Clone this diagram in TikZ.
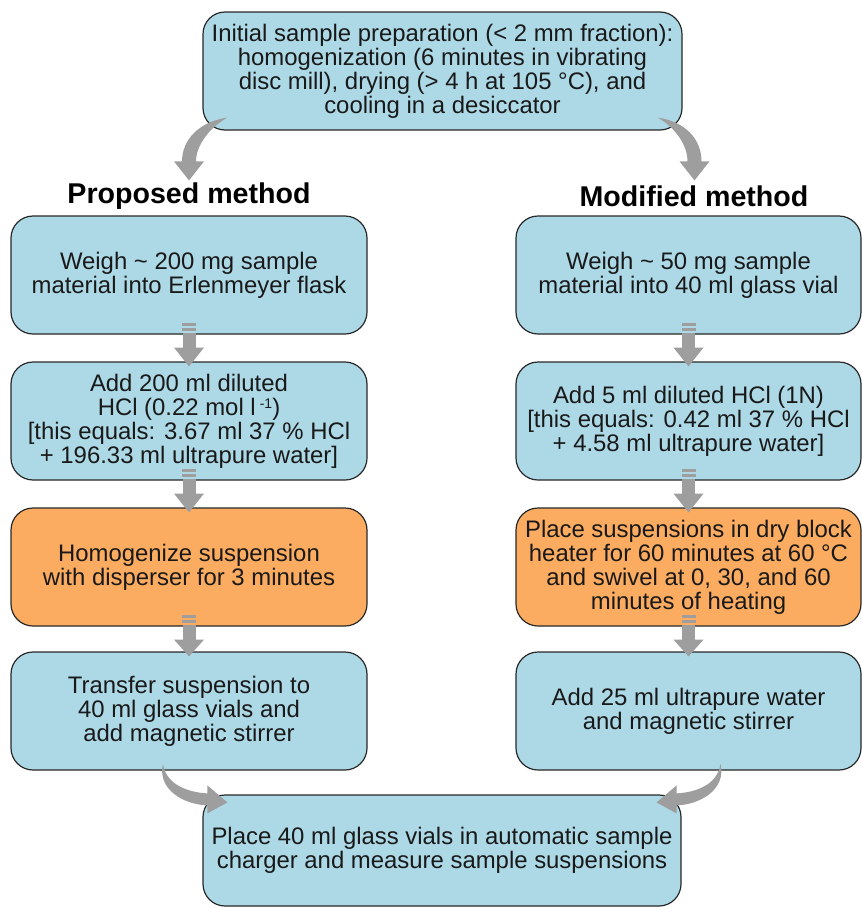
\documentclass[tikz,border=0pt]{standalone}
\usepackage{fontspec}
\setmainfont{Liberation Sans}
\usepackage{xcolor}
\definecolor{boxblue}{RGB}{173,217,231}
\definecolor{boxorange}{RGB}{251,172,96}
\definecolor{linegray}{RGB}{40,40,40}
\definecolor{arrowgray}{RGB}{158,158,158}
\usepackage{tikz}
\usetikzlibrary{calc}

\newcommand{\stackarrow}[2]{%
  \fill[arrowgray] ($(#1.south)+(-7,12)$) rectangle ($(#1.south)+(7,9)$);
  \fill[arrowgray] ($(#1.south)+(-7,7)$) rectangle ($(#1.south)+(7,4)$);
  \fill[arrowgray] ($(#1.south)+(-6.5,2)$) rectangle ($(#1.south)+(6.5,-13)$);
  \fill[arrowgray] ($(#1.south)+(-15,-13)$) -- ($(#1.south)+(15,-13)$) -- ($(#2.north)+(0,-5)$) -- cycle;
}
\newcommand{\minusone}{\raisebox{6.5pt}{\fontsize{14}{14}\selectfont -1}}

\begin{document}
\begin{tikzpicture}[
  x=1pt, y=1pt,
  box/.style={draw=linegray, fill=boxblue, line width=1.2pt, rounded corners=22pt, align=center,
    font=\fontsize{23.9}{24}\selectfont, text=black!90, inner sep=0pt},
  hot/.style={box, fill=boxorange},
  head/.style={font=\fontsize{28.6}{30}\selectfont\bfseries, text=black},
  curvearrow/.style={fill=arrowgray}
]
\useasboundingbox (0,0) rectangle (862,-908);

\node[box, minimum width=479pt, minimum height=118pt] (prep) at (442.5,-71) {Initial sample preparation (< 2 mm fraction):\\homogenization (6 minutes in vibrating\\disc mill), drying (> 4 h at 105 °C), and\\cooling in a desiccator};

\node[head] (headL) at (189,-196) {Proposed method};
\node[head] (headR) at (694,-196) {Modified method};

\node[box, minimum width=356pt, minimum height=118pt] (weighL) at (189,-275) {Weigh \textasciitilde{} 200 mg sample\\material into Erlenmeyer flask};
\node[box, minimum width=356pt, minimum height=118pt] (acidL) at (189,-421) {Add 200 ml diluted\\HCl (0.22 mol l\,\minusone)\\{}[this equals: 3.67 ml 37 \% HCl\\+ 196.33 ml ultrapure water]};
\node[hot, minimum width=356pt, minimum height=118pt] (mixL) at (189,-567) {Homogenize suspension\\with disperser for 3 minutes};
\node[box, minimum width=356pt, minimum height=118pt] (vialL) at (189,-711) {Transfer suspension to\\40 ml glass vials and\\add magnetic stirrer};

\node[box, minimum width=345pt, minimum height=118pt] (weighR) at (688.5,-275) {Weigh \textasciitilde{} 50 mg sample\\material into 40 ml glass vial};
\node[box, minimum width=345pt, minimum height=118pt] (acidR) at (688.5,-421) {Add 5 ml diluted HCl (1N)\\{}[this equals: 0.42 ml 37 \% HCl\\+ 4.58 ml ultrapure water]};
\node[hot, minimum width=345pt, minimum height=118pt] (heatR) at (688.5,-567) {Place suspensions in dry block\\heater for 60 minutes at 60 °C\\and swivel at 0, 30, and 60\\minutes of heating};
\node[box, minimum width=345pt, minimum height=118pt] (waterR) at (688.5,-711) {Add 25 ml ultrapure water\\and magnetic stirrer};

\node[box, minimum width=478pt, minimum height=111pt] (measure) at (442,-850.5) {Place 40 ml glass vials in automatic sample\\charger and measure sample suspensions};

\stackarrow{weighL}{acidL}
\stackarrow{acidL}{mixL}
\stackarrow{mixL}{vialL}
\stackarrow{weighR}{acidR}
\stackarrow{acidR}{heatR}
\stackarrow{heatR}{waterR}

\coordinate (t1) at ($(prep.south west)+(25,13)$);
\coordinate (p1) at ($(weighL.north)+(0,35)$);
\fill[curvearrow] (t1) .. controls ($(t1)+(-28,-4)$) and ($(p1)+(-7,41)$) .. ($(p1)+(-7,19)$)
  -- ($(p1)+(-15,19)$) -- (p1) -- ($(p1)+(15,19)$) -- ($(p1)+(7,19)$)
  .. controls ($(p1)+(7,35)$) and ($(t1)+(-18,-10)$) .. (t1) -- cycle;

\coordinate (t2) at ($(prep.south east)+(-25,13)$);
\coordinate (p2) at ($(weighR.north)+(6,35)$);
\fill[curvearrow] (t2) .. controls ($(t2)+(28,-4)$) and ($(p2)+(7,41)$) .. ($(p2)+(7,19)$)
  -- ($(p2)+(15,19)$) -- (p2) -- ($(p2)+(-15,19)$) -- ($(p2)+(-7,19)$)
  .. controls ($(p2)+(-7,35)$) and ($(t2)+(18,-10)$) .. (t2) -- cycle;

\coordinate (t3) at ($(vialL.south)+(-26,7)$);
\coordinate (p3) at ($(measure.north west)+(25,-8)$);
\fill[curvearrow] (t3) .. controls ($(t3)+(3,-22)$) and ($(p3)+(-38,10)$) .. ($(p3)+(-20,9)$)
  -- ($(p3)+(-20,17)$) -- (p3) -- ($(p3)+(-20,-11)$) -- ($(p3)+(-20,-3)$)
  .. controls ($(p3)+(-45,-2)$) and ($(t3)+(-6,-25)$) .. (t3) -- cycle;

\coordinate (t4) at ($(waterR.south)+(32,7)$);
\coordinate (p4) at ($(measure.north east)+(-25,-8)$);
\fill[curvearrow] (t4) .. controls ($(t4)+(-3,-22)$) and ($(p4)+(38,10)$) .. ($(p4)+(20,9)$)
  -- ($(p4)+(20,17)$) -- (p4) -- ($(p4)+(20,-11)$) -- ($(p4)+(20,-3)$)
  .. controls ($(p4)+(45,-2)$) and ($(t4)+(6,-25)$) .. (t4) -- cycle;
\end{tikzpicture}
\end{document}
